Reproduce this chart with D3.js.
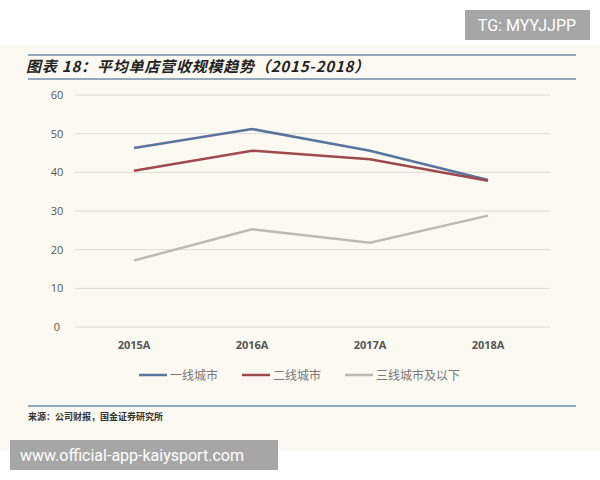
<!DOCTYPE html><html><head><meta charset="utf-8"><script src="https://cdn.jsdelivr.net/npm/d3@7"></script>
<style>body{margin:0;background:#fff}</style></head><body><svg id="c" width="600" height="480"></svg>
<script>
const categories=["2015A","2016A","2017A","2018A"];
const seriesNames=["一线城市","二线城市","三线城市及以下"];
const tier1=[46.3,51.2,45.6,38.0];
const tier2=[40.4,45.6,43.4,37.8];
const tier3=[17.2,25.3,21.8,28.8];
const yTicks=[0,10,20,30,40,50,60];
const colors=["#5a74a0","#9e4a4c","#bdbab5"];
const svg=d3.select("#c");
svg.append("rect").attr("x",0).attr("y",45).attr("width",600).attr("height",405).attr("fill","#fcf9f3");
svg.append("rect").attr("x",465).attr("y",10).attr("width",125).attr("height",30).attr("fill","#a6a6a6");
svg.append("text").attr("x",527).attr("y",31).attr("text-anchor","middle").attr("fill","#fff").attr("font-family","Roboto").attr("font-size",16).text("TG: MYYJJPP");
svg.append("line").attr("x1",28).attr("x2",576).attr("y1",55).attr("y2",55).attr("stroke","#6c8eaa").attr("stroke-width",1.5);
svg.append("line").attr("x1",28).attr("x2",576).attr("y1",79).attr("y2",79).attr("stroke","#6c8eaa").attr("stroke-width",1.5);
svg.append("text").attr("x",26).attr("y",72).attr("font-family","Noto Sans CJK SC").attr("font-style","italic").attr("font-weight","bold").attr("font-size",15).attr("letter-spacing",0.8).attr("fill","#222").text("图表 18：平均单店营收规模趋势（2015-2018）");
const x=d3.scalePoint().domain(categories).range([134,488]);
const y=d3.scaleLinear().domain([0,60]).range([327,95]);
const g=svg.append("g");
yTicks.forEach(t=>{
 g.append("line").attr("x1",75).attr("x2",550).attr("y1",y(t)).attr("y2",y(t)).attr("stroke","#dedbd6").attr("stroke-width",1);
 g.append("text").attr("x",57).attr("y",y(t)+4).attr("text-anchor","middle").attr("font-family","Open Sans").attr("font-size",11).attr("fill","#555").text(t);
});
categories.forEach(c=>g.append("text").attr("x",x(c)).attr("y",349).attr("text-anchor","middle").attr("font-family","Open Sans").attr("font-weight","bold").attr("font-size",11).attr("fill","#555").text(c));
const line=d3.line().x((d,i)=>x(categories[i])).y(d=>y(d));
[tier1,tier2,tier3].forEach((s,i)=>g.append("path").attr("d",line(s)).attr("fill","none").attr("stroke",colors[i]).attr("stroke-width",2.5));
const lx=[139,242,345];
seriesNames.forEach((n,i)=>{
 g.append("line").attr("x1",lx[i]).attr("x2",lx[i]+28).attr("y1",375).attr("y2",375).attr("stroke",colors[i]).attr("stroke-width",2.5);
 g.append("text").attr("x",lx[i]+31).attr("y",380).attr("font-family","Noto Sans CJK SC").attr("font-size",12).attr("fill","#777").text(n);
});
svg.append("line").attr("x1",28).attr("x2",576).attr("y1",406).attr("y2",406).attr("stroke","#6c8eaa").attr("stroke-width",1.5);
svg.append("text").attr("x",28).attr("y",420).attr("font-family","Noto Sans CJK SC").attr("font-weight","bold").attr("font-size",9).attr("fill","#333").text("来源：公司财报，国金证券研究所");
svg.append("rect").attr("x",10).attr("y",440).attr("width",268).attr("height",30).attr("fill","#a6a6a6");
svg.append("text").attr("x",20).attr("y",461).attr("fill","#fff").attr("font-family","Roboto").attr("font-size",16).text("www.official-app-kaiysport.com");
</script></body></html>
